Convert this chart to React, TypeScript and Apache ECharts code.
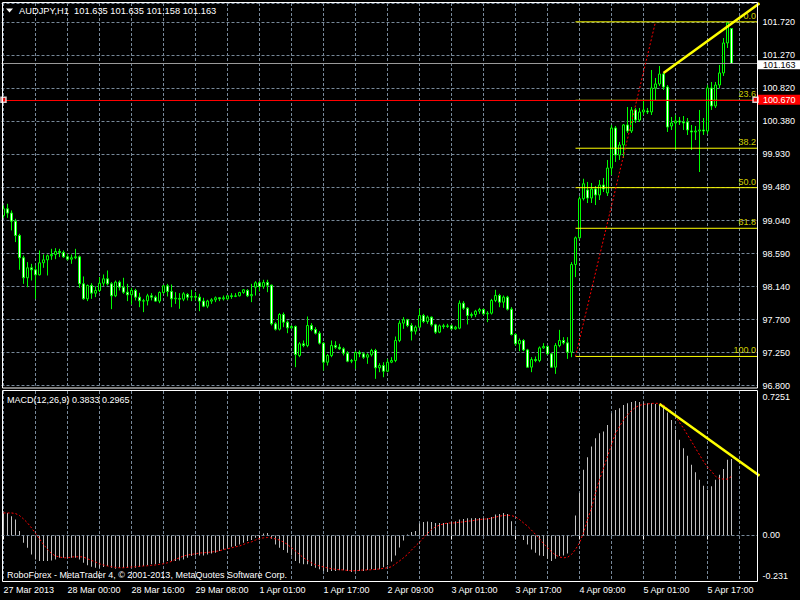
import React, { useEffect, useRef } from "react";
import * as echarts from "echarts";

const TITLE_TEXT = "AUDJPY,H1  101.635 101.635 101.158 101.163";
const MACD_TEXT = "MACD(12,26,9) 0.3833 0.2965";
const FOOTER_TEXT = "RoboForex - MetaTrader 4, \u00a9 2001-2013, MetaQuotes Software Corp.";

const X_TICK_LABELS = [
  "27 Mar 2013", "28 Mar 00:00", "28 Mar 16:00", "29 Mar 08:00", "1 Apr 01:00", "1 Apr 17:00",
  "2 Apr 09:00", "3 Apr 01:00", "3 Apr 17:00", "4 Apr 09:00", "5 Apr 01:00", "5 Apr 17:00",
];
const PRICE_TICK_LABELS = [
  "96.800", "97.250", "97.700", "98.140", "98.590", "99.040",
  "99.480", "99.930", "100.380", "100.820", "101.270", "101.720",
];
const MACD_AXIS_LABELS = ["-0.231", "0.00", "0.7251"];

const OPEN = [
  99.105, 99.195, 99.137, 99.028, 98.834, 98.532, 98.261, 98.396, 98.369, 98.301,
  98.464, 98.504, 98.559, 98.577, 98.617, 98.604, 98.545, 98.513, 98.532, 98.545,
  98.179, 97.976, 98.157, 98.053, 98.089, 98.188, 98.247, 98.179, 98.017, 98.202,
  98.134, 98.066, 98.030, 98.089, 97.999, 97.949, 97.949, 98.017, 97.999, 97.945,
  98.062, 98.152, 98.076, 97.976, 97.981, 97.972, 98.035, 97.999, 98.008, 97.999,
  97.945, 97.877, 97.945, 97.963, 97.990, 97.976, 97.976, 98.017, 98.008, 98.017,
  98.062, 98.089, 98.017, 98.134, 98.193, 98.143, 98.197, 98.161, 97.638, 97.565,
  97.764, 97.660, 97.583, 97.601, 97.209, 97.367, 97.344, 97.615, 97.561, 97.511,
  97.376, 97.118, 97.209, 97.344, 97.321, 97.299, 97.240, 97.132, 97.141, 97.249,
  97.231, 97.186, 97.218, 97.276, 97.042, 97.073, 96.996, 97.118, 97.141, 97.412,
  97.647, 97.692, 97.615, 97.538, 97.592, 97.750, 97.669, 97.728, 97.624, 97.525,
  97.610, 97.601, 97.610, 97.570, 97.579, 97.917, 97.850, 97.750, 97.764, 97.809,
  97.832, 97.773, 97.782, 97.954, 98.021, 97.931, 97.999, 97.836, 97.493, 97.367,
  97.412, 97.285, 97.051, 97.154, 97.141, 97.312, 97.331, 97.231, 97.051, 97.344,
  97.412, 97.380, 97.254, 98.441, 98.802, 99.331, 99.449, 99.341, 99.463, 99.382,
  99.517, 99.409, 99.747, 100.289, 99.923, 100.059, 100.330, 100.248, 100.533, 100.397,
  100.506, 100.519, 100.506, 100.830, 100.885, 101.020, 100.844, 100.316, 100.357, 100.384,
  100.370, 100.370, 100.248, 100.235, 100.248, 100.262, 100.248, 100.830, 100.587, 100.871,
  101.034, 101.440, 101.635,
];
const CLOSE = [
  99.195, 99.137, 99.028, 98.834, 98.532, 98.261, 98.396, 98.369, 98.301, 98.464,
  98.504, 98.559, 98.577, 98.617, 98.604, 98.545, 98.513, 98.532, 98.545, 98.179,
  97.976, 98.157, 98.053, 98.089, 98.188, 98.247, 98.179, 98.017, 98.202, 98.134,
  98.066, 98.030, 98.089, 97.999, 97.949, 97.945, 98.017, 97.999, 97.945, 98.062,
  98.152, 98.076, 97.976, 97.985, 97.972, 98.044, 97.999, 98.008, 97.999, 97.945,
  97.877, 97.945, 97.963, 97.990, 97.976, 97.990, 98.017, 98.008, 98.017, 98.062,
  98.098, 98.017, 98.035, 98.193, 98.143, 98.197, 98.161, 97.638, 97.565, 97.764,
  97.660, 97.583, 97.601, 97.222, 97.367, 97.344, 97.615, 97.561, 97.511, 97.376,
  97.118, 97.209, 97.344, 97.321, 97.299, 97.240, 97.132, 97.141, 97.249, 97.231,
  97.186, 97.218, 97.276, 97.042, 97.073, 96.996, 97.118, 97.141, 97.412, 97.647,
  97.692, 97.615, 97.538, 97.592, 97.750, 97.669, 97.728, 97.624, 97.525, 97.610,
  97.601, 97.610, 97.570, 97.592, 97.917, 97.850, 97.750, 97.764, 97.809, 97.832,
  97.773, 97.782, 97.954, 98.021, 97.931, 97.999, 97.836, 97.493, 97.367, 97.412,
  97.285, 97.051, 97.154, 97.141, 97.312, 97.331, 97.231, 97.051, 97.344, 97.412,
  97.380, 97.254, 98.441, 98.802, 99.331, 99.534, 99.341, 99.463, 99.382, 99.517,
  99.463, 99.747, 100.289, 99.923, 100.059, 100.330, 100.248, 100.533, 100.397, 100.506,
  100.533, 100.506, 100.830, 100.885, 101.020, 100.844, 100.302, 100.357, 100.384, 100.370,
  100.357, 100.262, 100.235, 100.248, 100.262, 100.248, 100.830, 100.587, 100.871, 101.034,
  101.440, 101.711, 101.163,
];
const HIGH = [
  99.240, 99.263, 99.173, 99.060, 98.857, 98.563, 98.473, 98.450, 98.428, 98.631,
  98.577, 98.577, 98.653, 98.662, 98.653, 98.631, 98.586, 98.577, 98.653, 98.563,
  98.279, 98.170, 98.188, 98.143, 98.270, 98.306, 98.360, 98.202, 98.224, 98.224,
  98.261, 98.179, 98.125, 98.112, 98.057, 97.976, 98.044, 98.053, 98.021, 98.076,
  98.166, 98.179, 98.170, 98.066, 98.053, 98.066, 98.053, 98.098, 98.066, 98.044,
  97.990, 97.963, 97.985, 98.008, 97.999, 98.021, 98.026, 98.053, 98.053, 98.071,
  98.107, 98.107, 98.179, 98.215, 98.215, 98.234, 98.234, 98.170, 97.660, 97.782,
  97.791, 97.683, 97.619, 97.615, 97.389, 97.412, 97.737, 97.647, 97.592, 97.538,
  97.389, 97.231, 97.412, 97.403, 97.367, 97.321, 97.267, 97.163, 97.267, 97.276,
  97.254, 97.240, 97.299, 97.299, 97.105, 97.118, 97.163, 97.186, 97.466, 97.683,
  97.728, 97.705, 97.647, 97.615, 97.841, 97.773, 97.750, 97.737, 97.638, 97.629,
  97.638, 97.638, 97.629, 97.610, 97.954, 97.945, 97.863, 97.791, 97.827, 97.854,
  97.845, 97.809, 97.976, 98.098, 98.044, 98.021, 98.017, 97.863, 97.511, 97.439,
  97.430, 97.299, 97.186, 97.195, 97.331, 97.376, 97.344, 97.240, 97.376, 97.556,
  97.457, 97.457, 98.473, 98.820, 99.362, 99.602, 99.558, 99.544, 99.504, 99.585,
  99.612, 99.856, 100.330, 100.316, 100.099, 100.343, 100.573, 100.573, 100.560, 100.560,
  100.668, 100.560, 101.074, 100.966, 101.128, 101.034, 100.871, 100.438, 100.465, 100.438,
  100.451, 100.424, 100.330, 100.316, 100.533, 100.424, 100.871, 100.912, 100.912, 101.142,
  101.507, 101.724, 101.635,
];
const LOW = [
  99.073, 99.073, 98.902, 98.744, 98.369, 98.179, 98.134, 98.224, 97.976, 98.292,
  98.396, 98.292, 98.504, 98.513, 98.541, 98.532, 98.495, 98.450, 98.513, 98.125,
  97.963, 97.945, 97.976, 97.999, 98.066, 98.152, 98.157, 97.836, 97.999, 98.089,
  98.044, 97.945, 97.899, 97.954, 97.863, 97.796, 97.886, 97.954, 97.936, 97.917,
  98.044, 98.008, 97.863, 97.908, 97.841, 97.945, 97.954, 97.945, 97.954, 97.809,
  97.863, 97.850, 97.908, 97.931, 97.945, 97.954, 97.963, 97.976, 97.999, 98.008,
  98.044, 97.999, 97.931, 98.021, 98.076, 98.112, 98.066, 97.615, 97.547, 97.547,
  97.592, 97.511, 97.570, 97.051, 97.186, 97.321, 97.321, 97.538, 97.493, 97.358,
  97.005, 97.073, 97.186, 97.299, 97.285, 97.209, 97.118, 97.105, 97.028, 97.186,
  97.163, 97.096, 97.195, 96.893, 96.983, 96.915, 96.983, 97.105, 97.118, 97.389,
  97.570, 97.592, 97.412, 97.493, 97.583, 97.647, 97.638, 97.601, 97.502, 97.511,
  97.570, 97.583, 97.556, 97.556, 97.565, 97.827, 97.629, 97.719, 97.728, 97.773,
  97.755, 97.660, 97.764, 97.931, 97.863, 97.854, 97.818, 97.480, 97.344, 97.267,
  97.267, 97.042, 96.983, 97.118, 97.118, 97.299, 97.222, 97.042, 96.960, 97.321,
  97.358, 97.163, 97.186, 98.270, 98.784, 99.308, 99.273, 99.273, 99.246, 99.314,
  99.422, 99.368, 99.653, 99.829, 99.856, 99.883, 100.221, 100.221, 100.357, 100.370,
  100.465, 100.478, 100.465, 100.668, 100.858, 100.803, 100.235, 100.262, 99.991, 100.330,
  100.262, 100.194, 99.991, 100.126, 99.693, 100.194, 100.208, 100.533, 100.560, 100.830,
  100.993, 101.372, 101.158,
];

const MACD_MAIN = [
  0.113, 0.113, 0.097, 0.080, 0.022, -0.037, -0.062, -0.095, -0.120, -0.128,
  -0.128, -0.128, -0.125, -0.120, -0.112, -0.112, -0.112, -0.112, -0.112, -0.120,
  -0.137, -0.150, -0.157, -0.162, -0.162, -0.158, -0.153, -0.162, -0.167, -0.162,
  -0.162, -0.162, -0.162, -0.162, -0.158, -0.153, -0.150, -0.145, -0.145, -0.140,
  -0.133, -0.128, -0.128, -0.128, -0.125, -0.120, -0.112, -0.103, -0.100, -0.100,
  -0.100, -0.095, -0.090, -0.087, -0.078, -0.070, -0.062, -0.057, -0.053, -0.045,
  -0.037, -0.028, -0.023, -0.012, 0.002, 0.010, 0.013, -0.017, -0.045, -0.062,
  -0.073, -0.087, -0.100, -0.128, -0.140, -0.145, -0.145, -0.153, -0.162, -0.170,
  -0.178, -0.183, -0.178, -0.178, -0.175, -0.175, -0.178, -0.183, -0.178, -0.178,
  -0.178, -0.173, -0.170, -0.173, -0.170, -0.160, -0.150, -0.130, -0.100, -0.060,
  -0.025, 0.005, 0.017, 0.022, 0.060, 0.067, 0.070, 0.067, 0.063, 0.063,
  0.063, 0.063, 0.067, 0.072, 0.080, 0.083, 0.087, 0.087, 0.088, 0.088,
  0.088, 0.087, 0.093, 0.105, 0.108, 0.113, 0.108, 0.072, 0.030, -0.003,
  -0.023, -0.045, -0.070, -0.087, -0.100, -0.103, -0.117, -0.128, -0.117, -0.103,
  -0.100, -0.090, -0.005, 0.100, 0.213, 0.330, 0.393, 0.447, 0.488, 0.513,
  0.522, 0.555, 0.613, 0.630, 0.638, 0.655, 0.663, 0.670, 0.675, 0.670,
  0.667, 0.663, 0.663, 0.660, 0.655, 0.643, 0.617, 0.580, 0.530, 0.480,
  0.438, 0.400, 0.355, 0.317, 0.280, 0.250, 0.230, 0.247, 0.280, 0.305,
  0.333, 0.380, 0.3833,
];
const MACD_SIGNAL = [
  0.113, 0.113, 0.113, 0.110, 0.100, 0.083, 0.063, 0.038, 0.010, -0.017,
  -0.045, -0.070, -0.090, -0.103, -0.108, -0.112, -0.112, -0.108, -0.107, -0.107,
  -0.108, -0.117, -0.125, -0.133, -0.142, -0.148, -0.153, -0.157, -0.160, -0.162,
  -0.162, -0.160, -0.158, -0.157, -0.155, -0.153, -0.152, -0.150, -0.148, -0.145,
  -0.142, -0.137, -0.130, -0.120, -0.112, -0.103, -0.098, -0.095, -0.092, -0.088,
  -0.087, -0.085, -0.083, -0.080, -0.077, -0.070, -0.067, -0.062, -0.057, -0.053,
  -0.045, -0.037, -0.032, -0.023, -0.015, -0.012, -0.010, -0.012, -0.017, -0.023,
  -0.033, -0.045, -0.062, -0.078, -0.095, -0.112, -0.125, -0.137, -0.147, -0.153,
  -0.158, -0.163, -0.167, -0.170, -0.172, -0.173, -0.175, -0.177, -0.177, -0.175,
  -0.173, -0.173, -0.172, -0.170, -0.168, -0.165, -0.162, -0.157, -0.142, -0.128,
  -0.112, -0.095, -0.073, -0.053, -0.033, -0.012, 0.010, 0.030, 0.043, 0.052,
  0.058, 0.062, 0.063, 0.063, 0.067, 0.068, 0.072, 0.073, 0.077, 0.080,
  0.082, 0.083, 0.087, 0.092, 0.097, 0.100, 0.102, 0.100, 0.093, 0.080,
  0.063, 0.047, 0.027, 0.005, -0.017, -0.040, -0.062, -0.082, -0.098, -0.108,
  -0.112, -0.110, -0.095, -0.070, -0.037, 0.013, 0.080, 0.138, 0.213, 0.280,
  0.338, 0.397, 0.455, 0.513, 0.547, 0.580, 0.605, 0.627, 0.643, 0.653,
  0.658, 0.660, 0.663, 0.663, 0.663, 0.655, 0.638, 0.622, 0.597, 0.567,
  0.538, 0.505, 0.472, 0.438, 0.405, 0.372, 0.343, 0.322, 0.297, 0.285,
  0.283, 0.283, 0.2965,
];

const FIB_LEVEL_LABELS = ["0.0", "23.6", "38.2", "50.0", "61.8", "100.0"];
const FIB_LEVEL_PRICES = [101.726, 100.664, 100.015, 99.481, 98.931, 97.196];
const FIB_ANCHORS: [number, number][] = [[143, 97.196], [163, 101.726]];
const FIB_START_BAR = 143;
const RIGHT_EDGE_BAR = 188.5;
const LABEL_BAR = 188;
const PRICE_TREND: [number, number][] = [[165, 101.034], [188.5, 101.976]];
const MACD_TREND: [number, number][] = [[164, 0.66], [188.5, 0.3]];
const CURRENT_PRICE = 101.163;
const ALERT_PRICE = 100.67;
const ALERT_MARKER_BARS = [0.45, 187.8];

const SLOTS = 189;
const PRICE_MIN = 96.8;
const PRICE_MAX = 101.981;
const PRICE_STEP = (101.72 - 96.8) / 11;
const MACD_MIN = -0.231;
const MACD_MAX = 0.7251;

const FONT = "'Liberation Sans', Arial, sans-serif";
const GRID_COLOR = "#778899";
const LIME = "#00ff00";
const YELLOW = "#ffff00";

function buildOption() {
  const categories = Array.from({ length: SLOTS }, (_, i) => String(i));
  const candles = OPEN.map((o, i) => [o, CLOSE[i], LOW[i], HIGH[i]]);
  const splitLine = {
    show: true,
    interval: 7,
    alignWithLabel: true,
    lineStyle: { color: GRID_COLOR, width: 1, type: [3, 2] },
  };
  const fibSeries = FIB_LEVEL_PRICES.map((p) => ({
    type: "line",
    xAxisIndex: 0,
    yAxisIndex: 0,
    data: [[FIB_START_BAR, p], [RIGHT_EDGE_BAR, p]],
    showSymbol: false,
    silent: true,
    z: 4,
    lineStyle: { color: YELLOW, width: 1 },
  }));

  return {
    animation: false,
    backgroundColor: "#000000",
    textStyle: { fontFamily: FONT },
    grid: [
      { left: 1.5, top: 3, width: 756, height: 382.7 },
      { left: 1.5, top: 391, width: 756, height: 190.5 },
    ],
    xAxis: [
      {
        type: "category",
        gridIndex: 0,
        data: categories,
        boundaryGap: true,
        axisLine: { show: false },
        axisTick: { show: false },
        axisLabel: { show: false },
        splitLine,
      },
      {
        type: "category",
        gridIndex: 1,
        data: categories,
        boundaryGap: true,
        axisLine: { show: false },
        axisTick: { show: true, interval: 15, alignWithLabel: true, length: 4, lineStyle: { color: "#ffffff" } },
        axisLabel: {
          show: true,
          interval: 15,
          align: "left",
          margin: 4,
          color: "#ffffff",
          fontSize: 9,
          fontFamily: FONT,
          formatter: (_v: string, i: number) => X_TICK_LABELS[i / 16] ?? "",
        },
        splitLine,
      },
    ],
    yAxis: [
      {
        type: "value",
        gridIndex: 0,
        position: "right",
        min: PRICE_MIN,
        max: PRICE_MAX,
        interval: PRICE_STEP,
        axisLine: { show: false },
        axisTick: { show: false },
        axisLabel: {
          show: true,
          margin: 5,
          color: "#ffffff",
          fontSize: 9,
          lineHeight: 7,
          fontFamily: FONT,
          showMaxLabel: false,
          formatter: (_v: number, i: number) => PRICE_TICK_LABELS[i] ?? "",
        },
        splitLine: { show: true, lineStyle: { color: GRID_COLOR, width: 1, type: [3, 2] } },
      },
      {
        type: "value",
        gridIndex: 1,
        position: "right",
        min: MACD_MIN,
        max: MACD_MAX,
        interval: 0.231,
        axisLine: { show: false },
        axisTick: { show: false },
        splitLine: { show: false },
        axisLabel: {
          show: true,
          margin: 5,
          color: "#ffffff",
          fontSize: 9,
          fontFamily: FONT,
          showMaxLabel: true,
          showMinLabel: true,
          formatter: (v: number) => {
            if (Math.abs(v) < 1e-6) return MACD_AXIS_LABELS[1];
            if (Math.abs(v - MACD_MIN) < 1e-6) return "{b|" + MACD_AXIS_LABELS[0] + "}";
            if (Math.abs(v - MACD_MAX) < 1e-6) return "{t|" + MACD_AXIS_LABELS[2] + "}";
            return "";
          },
          rich: {
            t: { padding: [12, 0, 0, 0], color: "#ffffff", fontSize: 9, fontFamily: FONT },
            b: { padding: [0, 0, 12, 0], color: "#ffffff", fontSize: 9, fontFamily: FONT },
          },
        },
      },
    ],
    series: [
      {
        type: "candlestick",
        xAxisIndex: 0,
        yAxisIndex: 0,
        data: candles,
        barWidth: 3,
        z: 3,
        itemStyle: {
          color: "#000000",
          color0: "#ffffff",
          borderColor: LIME,
          borderColor0: LIME,
          borderColorDoji: LIME,
          borderWidth: 1,
        },
        markLine: {
          silent: true,
          symbol: ["none", "none"],
          animation: false,
          data: [
            {
              yAxis: CURRENT_PRICE,
              lineStyle: { color: "#9a9a9a", width: 1, type: "solid" },
              label: {
                show: true,
                position: "end",
                distance: 0.5,
                offset: [0, 1],
                formatter: () => CURRENT_PRICE.toFixed(3),
                backgroundColor: "#ffffff",
                color: "#000000",
                padding: [1, 5, 0, 5],
                lineHeight: 8,
                fontSize: 9,
                fontFamily: FONT,
              },
            },
            {
              yAxis: ALERT_PRICE,
              lineStyle: { color: "#ff0000", width: 1, type: "solid" },
              label: {
                show: true,
                position: "end",
                distance: 0.5,
                formatter: () => ALERT_PRICE.toFixed(3),
                backgroundColor: "#ff0000",
                color: "#ffffff",
                padding: [1, 5, 1, 5],
                lineHeight: 8,
                fontSize: 9,
                fontFamily: FONT,
              },
            },
          ],
        },
      },
      ...fibSeries,
      {
        type: "scatter",
        xAxisIndex: 0,
        yAxisIndex: 0,
        silent: true,
        z: 5,
        symbolSize: 1,
        itemStyle: { color: "rgba(0,0,0,0)" },
        data: FIB_LEVEL_PRICES.map((p, i) => ({
          value: [LABEL_BAR, p],
          label: {
            show: true,
            position: "left",
            distance: 0,
            offset: [1, -6],
            formatter: FIB_LEVEL_LABELS[i],
            color: YELLOW,
            fontSize: 9,
            fontFamily: FONT,
          },
        })),
      },
      {
        type: "line",
        xAxisIndex: 0,
        yAxisIndex: 0,
        data: FIB_ANCHORS,
        showSymbol: false,
        silent: true,
        z: 5,
        lineStyle: { color: "#ff0000", width: 1, type: [2, 2] },
      },
      {
        type: "line",
        xAxisIndex: 0,
        yAxisIndex: 0,
        data: PRICE_TREND,
        showSymbol: false,
        silent: true,
        z: 6,
        lineStyle: { color: YELLOW, width: 2.5 },
      },
      {
        type: "scatter",
        xAxisIndex: 0,
        yAxisIndex: 0,
        silent: true,
        z: 7,
        symbol: "rect",
        symbolSize: 5,
        itemStyle: { color: "#ff0000", borderColor: "#ffffff", borderWidth: 1.5 },
        data: ALERT_MARKER_BARS.map((b) => [b, ALERT_PRICE]),
      },
      {
        type: "bar",
        xAxisIndex: 1,
        yAxisIndex: 1,
        data: MACD_MAIN,
        barWidth: 1,
        silent: true,
        z: 3,
        itemStyle: { color: "#c0c0c0" },
        markLine: {
          silent: true,
          symbol: ["none", "none"],
          label: { show: false },
          lineStyle: { color: GRID_COLOR, width: 1, type: [3, 2] },
          data: [{ yAxis: 0 }],
        },
      },
      {
        type: "line",
        xAxisIndex: 1,
        yAxisIndex: 1,
        data: MACD_SIGNAL,
        showSymbol: false,
        silent: true,
        z: 4,
        lineStyle: { color: "#ff0000", width: 1, type: [2, 2] },
      },
      {
        type: "line",
        xAxisIndex: 1,
        yAxisIndex: 1,
        data: MACD_TREND,
        showSymbol: false,
        silent: true,
        z: 6,
        lineStyle: { color: YELLOW, width: 2.5 },
      },
    ],
    graphic: [
      {
        type: "rect",
        z: 100,
        silent: true,
        shape: { x: 2.5, y: 2.5, width: 755, height: 385.5 },
        style: { fill: "none", stroke: "#ffffff", lineWidth: 1 },
      },
      {
        type: "rect",
        z: 100,
        silent: true,
        shape: { x: 2.5, y: 390.5, width: 755, height: 191 },
        style: { fill: "none", stroke: "#ffffff", lineWidth: 1 },
      },
      {
        type: "polygon",
        z: 100,
        silent: true,
        shape: { points: [[6, 8.5], [13, 8.5], [9.5, 12.5]] },
        style: { fill: "#ffffff" },
      },
      {
        type: "text",
        z: 100,
        silent: true,
        x: 19,
        y: 10.5,
        style: { text: TITLE_TEXT, fill: "#ffffff", font: "9.3px " + FONT, verticalAlign: "middle", align: "left" },
      },
      {
        type: "text",
        z: 100,
        silent: true,
        x: 7,
        y: 400,
        style: { text: MACD_TEXT, fill: "#ffffff", font: "9px " + FONT, verticalAlign: "middle", align: "left" },
      },
      {
        type: "text",
        z: 100,
        silent: true,
        x: 7,
        y: 574.5,
        style: { text: FOOTER_TEXT, fill: "#ffffff", font: "9px " + FONT, verticalAlign: "middle", align: "left" },
      },
    ],
  };
}

export default function App() {
  const ref = useRef<HTMLDivElement>(null);
  useEffect(() => {
    if (!ref.current) return;
    const chart = echarts.init(ref.current, null, { renderer: "svg" });
    chart.setOption(buildOption() as any);
    return () => chart.dispose();
  }, []);
  return (
    <div
      ref={ref}
      style={{ position: "absolute", left: 0, top: 0, width: 800, height: 600, background: "#000" }}
    />
  );
}
